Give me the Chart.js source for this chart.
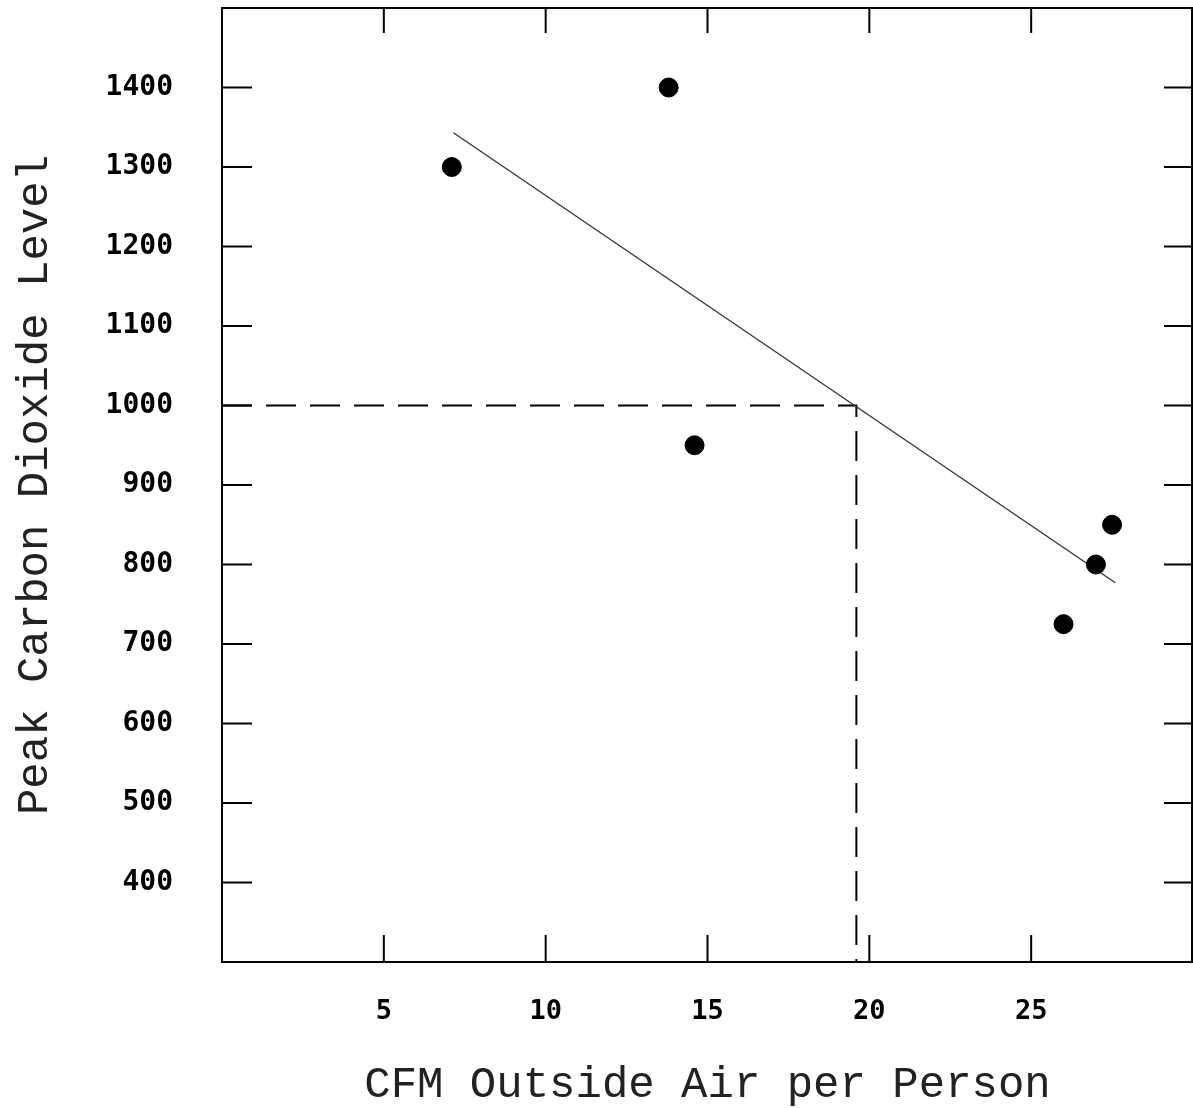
<!DOCTYPE html>
<html>
<head>
<meta charset="utf-8">
<script src="https://cdn.jsdelivr.net/npm/chart.js@4"></script>
<style>
  body { margin: 0; background: #fff; }
  canvas { display: block; }
</style>
</head>
<body>
<canvas id="grafCO2" width="1193" height="1108"></canvas>
<script>
// datos
const cfmAire = [7.1, 13.8, 14.6, 26.0, 27.0, 27.5];
const nivelCO2 = [1300, 1400, 950, 725, 800, 850];

// recta de tendencia
const tendX = [7.15, 27.6];
const tendY = [1343, 777];

// lineas de referencia (1000 ppm)
const refX = [0, 19.6, 19.6];
const refY = [1000, 1000, 300];

const ticksX = [5, 10, 15, 20, 25];
const ticksY = [400, 500, 600, 700, 800, 900, 1000, 1100, 1200, 1300, 1400];

function pares(xs, ys) {
  return xs.map(function(x, i) { return {x: x, y: ys[i]}; });
}

// quitar el relleno que agrega chart.js por las etiquetas
function sinRelleno(scale) {
  scale.paddingTop = 0;
  scale.paddingBottom = 0;
  scale.paddingLeft = 0;
  scale.paddingRight = 0;
}

// marco y marcas hacia adentro
const marcoPlugin = {
  id: 'marco',
  afterDraw: function(chart) {
    const ctx = chart.ctx;
    const a = chart.chartArea;
    const sx = chart.scales.x, sy = chart.scales.y;
    const der = Math.min(a.right, chart.width - 1);
    ctx.save();
    ctx.strokeStyle = '#000';
    ctx.lineWidth = 2;
    ctx.strokeRect(a.left, a.top, der - a.left, a.bottom - a.top);
    ctx.beginPath();
    ticksY.forEach(function(v) {
      const y = sy.getPixelForValue(v);
      ctx.moveTo(a.left, y); ctx.lineTo(a.left + 30, y);
      ctx.moveTo(der - 28, y); ctx.lineTo(der, y);
    });
    ticksX.forEach(function(v) {
      const x = sx.getPixelForValue(v);
      ctx.moveTo(x, a.bottom); ctx.lineTo(x, a.bottom - 27);
      ctx.moveTo(x, a.top); ctx.lineTo(x, a.top + 25);
    });
    ctx.stroke();
    ctx.restore();
  }
};

let graf = new Chart(document.getElementById('grafCO2').getContext('2d'), {
  type: 'scatter',
  data: {
    datasets: [{
      label: 'Datos',
      data: pares(cfmAire, nivelCO2),
      backgroundColor: '#000',
      borderColor: '#000',
      pointRadius: 9.5,
      pointHoverRadius: 9.5
    }, {
      type: 'line',
      label: 'Tendencia',
      data: pares(tendX, tendY),
      borderColor: '#333',
      borderWidth: 1.3,
      pointRadius: 0,
      fill: false
    }, {
      type: 'line',
      label: 'Referencia',
      data: pares(refX, refY),
      borderColor: '#000',
      borderWidth: 2,
      borderDash: [30, 14],
      pointRadius: 0,
      fill: false
    }]
  },
  options: {
    responsive: false,
    animation: false,
    layout: { autoPadding: false, padding: { top: 8, right: 0, left: 0, bottom: 0 } },
    plugins: {
      legend: { display: false },
      tooltip: { enabled: false }
    },
    scales: {
      x: {
        type: 'linear',
        min: 0,
        max: 30,
        afterBuildTicks: function(scale) {
          scale.ticks = ticksX.map(function(v) { return {value: v}; });
        },
        afterFit: function(scale) { scale.height = 146; sinRelleno(scale); },
        grid: { display: false, drawTicks: false },
        border: { display: false },
        ticks: {
          padding: 34,
          color: '#000',
          callback: function(v) { return String(v); },
          font: { family: 'DejaVu Sans Mono', size: 27, weight: 'bold' }
        },
        title: {
          display: true,
          text: 'CFM Outside Air per Person',
          color: '#222',
          padding: { top: 0, bottom: 1 },
          font: { family: 'Liberation Mono', size: 44, lineHeight: 1 }
        }
      },
      y: {
        type: 'linear',
        min: 300,
        max: 1500,
        afterBuildTicks: function(scale) {
          scale.ticks = ticksY.map(function(v) { return {value: v}; });
        },
        afterFit: function(scale) { scale.width = 222; sinRelleno(scale); },
        grid: { display: false, drawTicks: false },
        border: { display: false },
        ticks: {
          padding: 49,
          color: '#000',
          callback: function(v) { return String(v); },
          font: { family: 'DejaVu Sans Mono', size: 28, weight: 'bold' }
        },
        title: {
          display: true,
          text: 'Peak Carbon Dioxide Level',
          color: '#222',
          padding: { top: 13, bottom: 0 },
          font: { family: 'Liberation Mono', size: 44, lineHeight: 1 }
        }
      }
    }
  },
  plugins: [marcoPlugin]
});
</script>
</body>
</html>
